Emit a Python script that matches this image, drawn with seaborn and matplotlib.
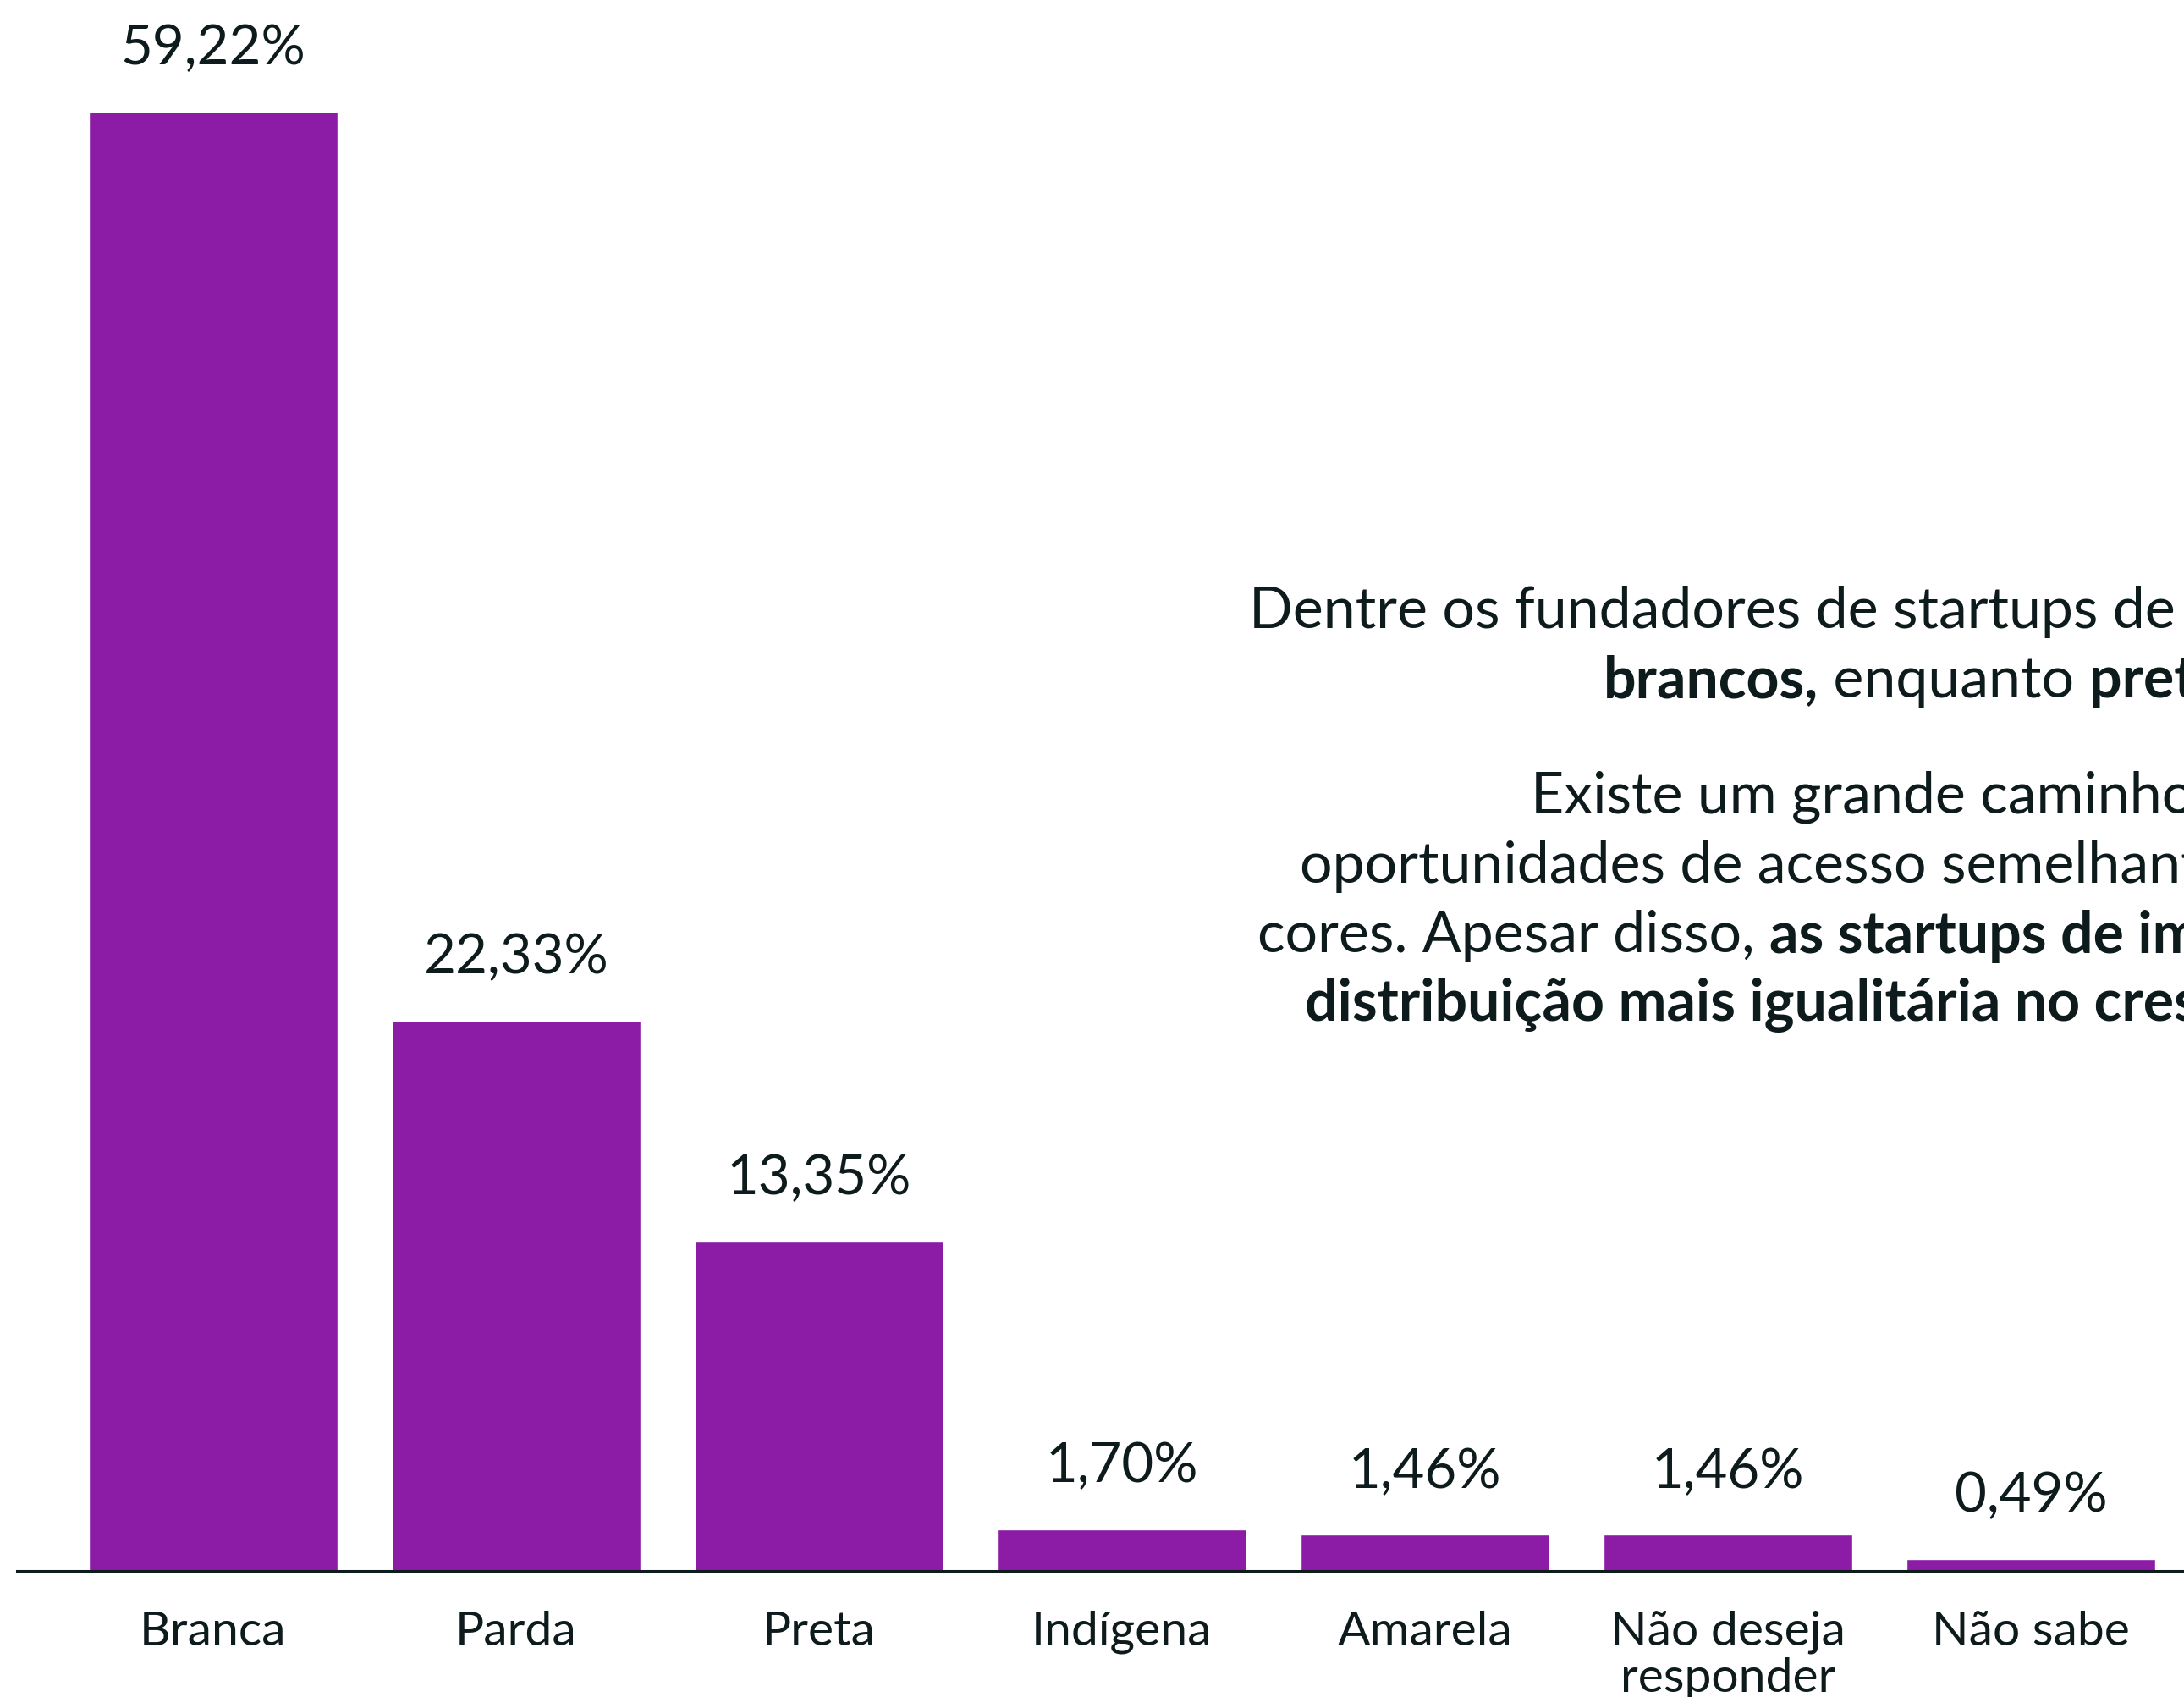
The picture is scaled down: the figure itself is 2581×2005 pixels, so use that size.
import matplotlib
matplotlib.use("Agg")
from matplotlib import pyplot as plt
import seaborn as sns
import pandas as pd

CATEGORIES = ["Branca", "Parda", "Preta", "Indígena", "Amarela", "Não deseja\nresponder", "Não sabe"]
VALUES = [59.22, 22.33, 13.35, 1.70, 1.46, 1.46, 0.49]

TEXT_LINES = [
    [("Dentre os fundadores de startups de impacto", "normal")],
    [("brancos,", "bold"), (" enquanto ", "normal"), ("pretos e pardos", "bold")],
    [("Existe um grande caminho para", "normal")],
    [("oportunidades de acesso semelhantes", "normal")],
    [("cores. Apesar disso, ", "normal"), ("as startups de impacto", "bold")],
    [("distribuição mais igualitária no crescimento", "bold")],
]

PURPLE = "#8C1CA5"
DARK = "#0E1B1D"
W, H = 2581, 2006

sns.set_theme(style="white")
plt.rcParams["font.family"] = ["Lato", "DejaVu Sans"]

df = pd.DataFrame({"cat": CATEGORIES, "val": VALUES})

fig = plt.figure(figsize=(W / 100, H / 100), dpi=100)
fig.patch.set_facecolor("white")

base_px = 149
left_px = 20
ax = fig.add_axes([left_px / W, base_px / H, 1 - left_px / W, 1 - base_px / H])
ax.set_facecolor("white")

sns.barplot(data=df, x="cat", y="val", color=PURPLE, width=0.82, saturation=1, ax=ax)

px_per_unit = (1857 - 133) / VALUES[0]
ax.set_ylim(0, 1857 / px_per_unit)
ax.set_xlim(-(252 - left_px) / 358, (W - 252) / 358)

for s in ["top", "right", "left"]:
    ax.spines[s].set_visible(False)
ax.spines["bottom"].set_color(DARK)
ax.spines["bottom"].set_linewidth(2.2)
ax.set_xlabel("")
ax.set_ylabel("")
ax.set_yticks([])
ax.tick_params(axis="x", length=0, pad=33, labelsize=41, labelcolor=DARK)
for lbl in ax.get_xticklabels():
    lbl.set_linespacing(1.1)

labels = [f"{v:.2f}".replace(".", ",") + "%" for v in VALUES]
ax.bar_label(ax.containers[0], labels=labels, padding=33, fontsize=47, color=DARK)

# texto lateral (cortado na borda direita, como na referência)
starts = [1476, 1895, 1809, 1536, 1486, 1542]
ys = [723, 805, 942, 1024, 1106, 1188]
renderer = fig.canvas.get_renderer()
for parts, x0, y0 in zip(TEXT_LINES, starts, ys):
    x = x0 / W
    for txt, weight in parts:
        t = fig.text(x, 1 - y0 / H, txt, fontsize=49, fontweight=weight,
                     ha="left", va="center", color=DARK)
        bb = t.get_window_extent(renderer)
        x = bb.x1 / fig.bbox.width

fig.savefig("out.png", dpi=100, facecolor="white")
